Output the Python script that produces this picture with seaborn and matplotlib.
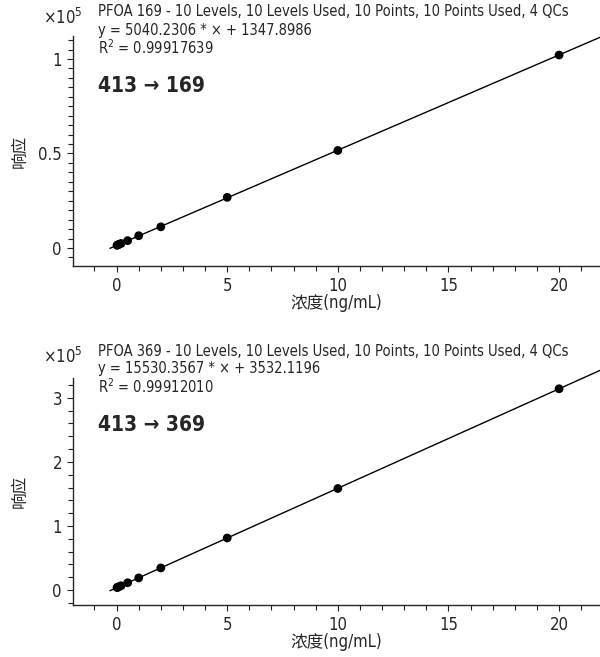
import matplotlib
matplotlib.use('Agg')
import matplotlib.pyplot as plt
from matplotlib.ticker import MultipleLocator, FuncFormatter
import numpy as np
import seaborn as sns

# calibration levels (ng/mL)
conc = [0.02, 0.05, 0.1, 0.2, 0.5, 1, 2, 5, 10, 20]

# responses
resp_169 = [1450, 1600, 1900, 2400, 3900, 6500, 11200, 26800, 51600, 102100]
resp_369 = [3850, 4300, 5100, 6600, 11300, 18900, 34500, 81200, 158500, 314200]

# fit results printed on the chart
slope_169, icpt_169 = 5040.2306, 1347.8986
slope_369, icpt_369 = 15530.3567, 3532.1196

titles = [
    'PFOA 169 - 10 Levels, 10 Levels Used, 10 Points, 10 Points Used, 4 QCs',
    'PFOA 369 - 10 Levels, 10 Levels Used, 10 Points, 10 Points Used, 4 QCs',
]
equations = ['y = 5040.2306 * \u00d7 + 1347.8986', 'y = 15530.3567 * \u00d7 + 3532.1196']
r2_text = ['R$^{2}$ = 0.99917639', 'R$^{2}$ = 0.99912010']
transitions = ['413 \u2192 169', '413 \u2192 369']

sns.set_style('ticks')
plt.rcParams['font.family'] = ['DejaVu Sans', 'Noto Sans CJK SC']
plt.rcParams['font.stretch'] = 'condensed'
plt.rcParams['mathtext.fontset'] = 'custom'
plt.rcParams['mathtext.rm'] = 'DejaVu Sans:stretch=condensed'
plt.rcParams['mathtext.it'] = 'DejaVu Sans:stretch=condensed'
plt.rcParams['axes.unicode_minus'] = False

W, H = 600, 657
fig = plt.figure(figsize=(W / 100, H / 100), dpi=100)


def fx(px):
    return px / W


def fy(py):
    return 1 - py / H


def panel(spine_top, spine_bot, ylim, major, minor, resp, slope, icpt, idx):
    ax = fig.add_axes([fx(73), fy(spine_bot), fx(600) - fx(73), fy(spine_top) - fy(spine_bot)])
    fit_x = np.array([-0.3, 21.9])
    sns.lineplot(x=fit_x, y=slope * fit_x + icpt, ax=ax, color='black', lw=1.0)
    ax.lines[-1].set_clip_on(False)
    sns.scatterplot(x=conc, y=resp, ax=ax, color='black', s=40, edgecolor='none', zorder=3)
    ax.set_xlim(-1.97, 21.85)
    ax.set_ylim(*ylim)
    ax.xaxis.set_major_locator(MultipleLocator(5))
    ax.xaxis.set_minor_locator(MultipleLocator(1))
    ax.yaxis.set_major_locator(MultipleLocator(major))
    ax.yaxis.set_minor_locator(MultipleLocator(minor))
    ax.yaxis.set_major_formatter(FuncFormatter(lambda v, p: f'{v / 1e5:g}'))
    ax.tick_params(which='major', length=4.5, width=0.8, labelsize=12, color='#222222')
    ax.tick_params(which='minor', length=3.5, width=0.8, color='#222222')
    for s in ['top', 'right']:
        ax.spines[s].set_visible(False)
    for s in ['left', 'bottom']:
        ax.spines[s].set_linewidth(1.0)
    ax.set_xlabel('\u6d53\u5ea6(ng/mL)', fontsize=12, labelpad=-1)
    ax.set_ylabel('\u54cd\u5e94', fontsize=12)
    ax.yaxis.set_label_coords(-0.085, 0.5)
    ax.set_facecolor('none')

    off = 0 if idx == 0 else 339
    fig.text(fx(43), fy(18 + off), '\u00d710$^{5}$', fontsize=12, va='center', ha='left')
    fig.text(fx(98), fy(12 + off), titles[idx], fontsize=10.5, va='center', ha='left')
    fig.text(fx(98), fy(30 + off), equations[idx], fontsize=10.5, va='center', ha='left')
    fig.text(fx(98), fy(48 + off), r2_text[idx], fontsize=10.5, va='center', ha='left')
    fig.text(fx(98), fy(86 + off), transitions[idx], fontsize=15, fontweight='bold',
             va='center', ha='left')
    return ax


panel(36, 266, (-9524, 112169), 50000, 5000, resp_169, slope_169, icpt_169, 0)
panel(378, 605, (-23400, 331000), 100000, 20000, resp_369, slope_369, icpt_369, 1)

fig.savefig('out.png', dpi=100)
